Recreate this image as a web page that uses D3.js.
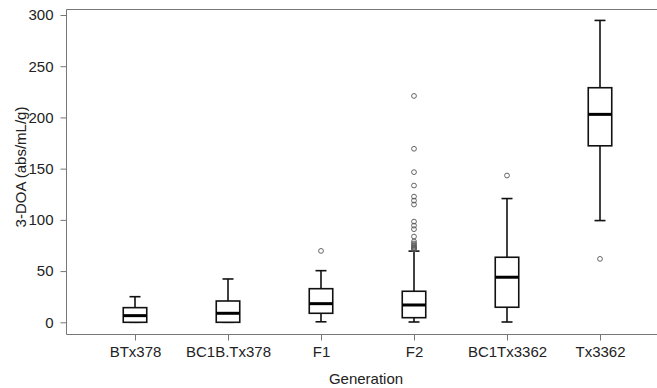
<!DOCTYPE html>
<html><head><meta charset="utf-8">
<script src="https://cdn.jsdelivr.net/npm/d3@7"></script>
<style>body{margin:0;background:#fff}svg{display:block}text{font-family:"Liberation Sans",Arial,sans-serif}</style>
</head><body>
<svg id="c" width="657" height="388"></svg>
<script>
const categories = ["BTx378","BC1B.Tx378","F1","F2","BC1Tx3362","Tx3362"];
const whiskerLow = [0, 0, 0.5, 0.3, 0.3, 99.3];
const q1 = [0, 0, 8.8, 4.5, 14.7, 172.3];
const median = [6.5, 8.8, 18.2, 16.9, 44, 203];
const q3 = [14.3, 20.8, 32.8, 30.3, 63.5, 229];
const whiskerHigh = [25, 42.3, 50.4, 69.5, 120.8, 294.7];
const outliers = [
  [],
  [],
  [69.7],
  [221, 169.4, 146.6, 133.5, 122.7, 118.8, 115, 98.3, 94.4, 90.9, 83.7, 79, 77, 75.5, 74, 73, 72, 71],
  [143.3],
  [61.9]
];
const yTicks = [0, 50, 100, 150, 200, 250, 300];

const svg = d3.select("#c");
const y = d3.scaleLinear().domain([0, 300]).range([322.3, 15]);
const x = d3.scalePoint().domain(categories).range([135, 600]);
const boxW = 23.5, capW = 11;
const fs = 15;

// frame
svg.append("path").attr("d","M660,9.5H66.5V334.5H660").attr("fill","none").attr("stroke","#777").attr("stroke-width",1);

// y axis
const yAxis = svg.append("g").attr("transform","translate(66.5,0)")
  .call(d3.axisLeft(y).tickValues(yTicks).tickSize(6).tickPadding(7));
yAxis.select(".domain").remove();
yAxis.selectAll("line").attr("stroke","#777");
yAxis.selectAll("text").attr("font-size",fs).attr("fill","#222");

// x axis
const xAxis = svg.append("g").attr("transform","translate(0,334.5)")
  .call(d3.axisBottom(x).tickSize(6).tickPadding(6));
xAxis.select(".domain").remove();
xAxis.selectAll("line").attr("stroke","#777");
xAxis.selectAll("text").attr("font-size",fs).attr("fill","#222");

// titles
svg.append("text").attr("x",366).attr("y",384).attr("text-anchor","middle").attr("font-size",fs).attr("fill","#222").text("Generation");
svg.append("text").attr("transform","translate(26,167) rotate(-90)").attr("text-anchor","middle").attr("font-size",fs).attr("fill","#222").text("3-DOA (abs/mL/g)");

// boxes
categories.forEach((c,i)=>{
  const g = svg.append("g");
  const cx = x(c);
  g.append("line").attr("x1",cx).attr("x2",cx).attr("y1",y(q3[i])).attr("y2",y(whiskerHigh[i])).attr("stroke","#111").attr("stroke-width",1.6);
  g.append("line").attr("x1",cx).attr("x2",cx).attr("y1",y(q1[i])).attr("y2",y(whiskerLow[i])).attr("stroke","#111").attr("stroke-width",1.6);
  g.append("line").attr("x1",cx-capW/2).attr("x2",cx+capW/2).attr("y1",y(whiskerHigh[i])).attr("y2",y(whiskerHigh[i])).attr("stroke","#111").attr("stroke-width",1.6);
  g.append("line").attr("x1",cx-capW/2).attr("x2",cx+capW/2).attr("y1",y(whiskerLow[i])).attr("y2",y(whiskerLow[i])).attr("stroke","#111").attr("stroke-width",1.6);
  g.append("rect").attr("x",cx-boxW/2).attr("width",boxW).attr("y",y(q3[i])).attr("height",y(q1[i])-y(q3[i]))
    .attr("fill","#fff").attr("stroke","#111").attr("stroke-width",1.6);
  g.append("line").attr("x1",cx-boxW/2).attr("x2",cx+boxW/2).attr("y1",y(median[i])).attr("y2",y(median[i])).attr("stroke","#000").attr("stroke-width",3);
  g.selectAll("circle").data(outliers[i]).join("circle")
    .attr("cx",cx).attr("cy",d=>y(d)).attr("r",2.4).attr("fill","none").attr("stroke","#555").attr("stroke-width",0.9);
});
</script>
</body></html>
